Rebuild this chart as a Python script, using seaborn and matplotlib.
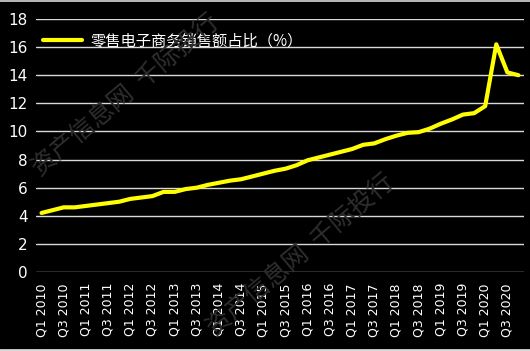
import matplotlib
matplotlib.use("Agg")
import matplotlib.pyplot as plt
import seaborn as sns
import pandas as pd

years = list(range(2010, 2021))
quarters = ["Q1", "Q2", "Q3", "Q4"]
categories = [f"{q} {y}" for y in years for q in quarters]
values = [4.2, 4.4, 4.6, 4.6,
          4.7, 4.8, 4.9, 5.0,
          5.2, 5.3, 5.4, 5.7,
          5.7, 5.9, 6.0, 6.2,
          6.35, 6.5, 6.6, 6.8,
          7.0, 7.2, 7.35, 7.6,
          7.95, 8.15, 8.35, 8.55,
          8.75, 9.05, 9.15, 9.45,
          9.7, 9.9, 9.95, 10.2,
          10.55, 10.85, 11.2, 11.3,
          11.8, 16.2, 14.2, 14.0]
series_name = "零售电子商务销售额占比（%）"
yticks = list(range(0, 19, 2))

df = pd.DataFrame({"quarter": categories, "value": values, "series": series_name})
df["pos"] = range(len(df))

sns.set_theme(style="dark")
plt.rcParams["font.family"] = ["DejaVu Sans", "Noto Sans CJK SC"]

fig = plt.figure(figsize=(5.30, 3.51), dpi=100, facecolor="black")
ax = fig.add_axes([36 / 530, 1 - 272 / 351, 488 / 530, 253 / 351])
ax.set_facecolor("black")

# watermark
wm_kw = dict(color="#2e2e2e", fontsize=18, rotation=40, family=["Noto Sans CJK SC"],
             ha="center", va="center", zorder=0)
fig.text(125 / 530, 1 - 95 / 351, "资产信息网  千际投行", **wm_kw)
fig.text(300 / 530, 1 - 255 / 351, "资产信息网  千际投行", **wm_kw)

for t in yticks:
    ax.axhline(t, color="#d9d9d9", lw=1.0, zorder=1)

sns.lineplot(data=df, x="pos", y="value", hue="series", palette=["#ffff00"],
             lw=3, ax=ax, zorder=3)

ax.set_xlim(-0.5, len(categories) - 0.5)
ax.set_ylim(0, 18)
ax.set_yticks(yticks)
ax.set_yticklabels([str(t) for t in yticks], color="white", fontsize=11)
ax.set_xticks(range(0, len(categories), 2))
ax.set_xticklabels(categories[::2], rotation=90, color="white", fontsize=9)
ax.tick_params(axis="both", length=0, pad=6)
ax.tick_params(axis="x", pad=8)
ax.set_xlabel("")
ax.set_ylabel("")
ax.grid(False)
for s in ax.spines.values():
    s.set_visible(False)

leg = ax.legend(loc="upper left", bbox_to_anchor=(-0.005, 0.985), frameon=False,
                handlelength=2.6, borderaxespad=0.2, handletextpad=0.5,
                prop={"family": ["Noto Sans CJK SC"], "size": 11})
for txt in leg.get_texts():
    txt.set_color("white")
for line in leg.get_lines():
    line.set_linewidth(3)

# thin light borders at figure top and bottom
fig.add_artist(plt.Line2D([0, 1], [1 - 0.5 / 351, 1 - 0.5 / 351], color="#d9d9d9", lw=1.2,
                          transform=fig.transFigure))
fig.add_artist(plt.Line2D([0, 1], [1.2 / 351, 1.2 / 351], color="#d9d9d9", lw=2,
                          transform=fig.transFigure))

fig.savefig("out.png", dpi=100, facecolor="black")
